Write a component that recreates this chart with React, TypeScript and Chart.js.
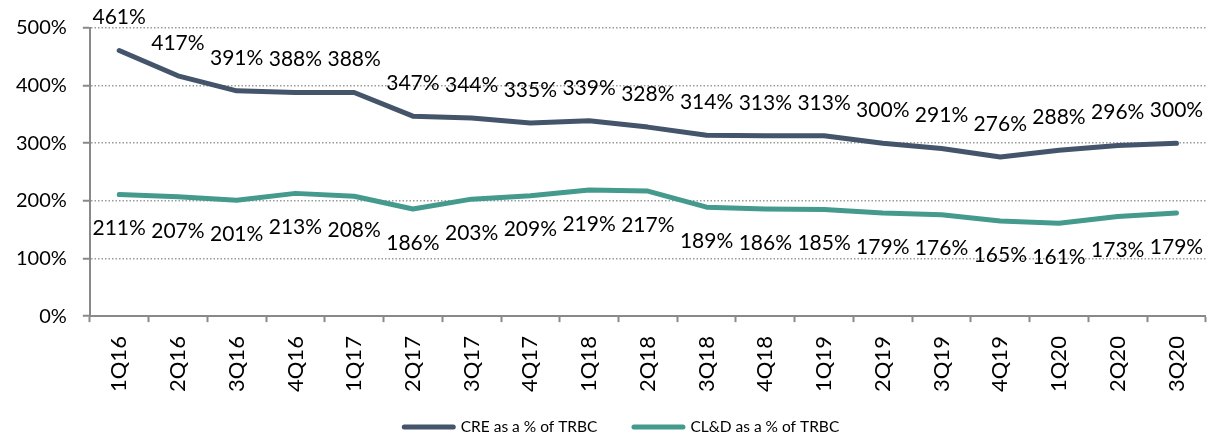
import React, { useEffect, useRef } from "react";
import { Chart, registerables } from "chart.js";

Chart.register(...registerables);

const categories = [
  "1Q16", "2Q16", "3Q16", "4Q16", "1Q17", "2Q17", "3Q17", "4Q17", "1Q18", "2Q18",
  "3Q18", "4Q18", "1Q19", "2Q19", "3Q19", "4Q19", "1Q20", "2Q20", "3Q20",
];
const creValues = [461, 417, 391, 388, 388, 347, 344, 335, 339, 328, 314, 313, 313, 300, 291, 276, 288, 296, 300];
const cldValues = [211, 207, 201, 213, 208, 186, 203, 209, 219, 217, 189, 186, 185, 179, 176, 165, 161, 173, 179];
const yTicks = [0, 100, 200, 300, 400, 500];

const FONT = "Lato";
const AXIS_COLOR = "#898989";
const CRE_COLOR = "#44546A";
const CLD_COLOR = "#459A8E";

const labelPlugin = {
  id: "pointLabels",
  afterDatasetsDraw(chart: any) {
    const ctx = chart.ctx;
    ctx.save();
    ctx.font = `21px ${FONT}`;
    ctx.fillStyle = "#000000";
    ctx.textAlign = "center";
    ctx.textBaseline = "middle";
    chart.data.datasets.forEach((ds: any, di: number) => {
      const meta = chart.getDatasetMeta(di);
      meta.data.forEach((pt: any, i: number) => {
        const off = di === 0 ? -33 : 34;
        ctx.fillText(`${ds.data[i]}%`, pt.x, pt.y + off);
      });
    });
    ctx.restore();
  },
};

const legendPlugin = {
  id: "lineLegend",
  afterDraw(chart: any) {
    const ctx = chart.ctx;
    ctx.save();
    ctx.font = `15.5px ${FONT}`;
    ctx.textBaseline = "middle";
    ctx.textAlign = "left";
    const lineW = 54;
    const gapText = 5;
    const gapItem = 34;
    const ds = chart.data.datasets;
    let total = 0;
    ds.forEach((d: any, i: number) => {
      total += lineW + gapText + ctx.measureText(d.label).width;
      if (i < ds.length - 1) total += gapItem;
    });
    let x = chart.width / 2 + 12 - total / 2;
    const y = 427;
    ds.forEach((d: any) => {
      ctx.strokeStyle = d.borderColor;
      ctx.lineWidth = 5;
      ctx.lineCap = "round";
      ctx.beginPath();
      ctx.moveTo(x + 2.5, y);
      ctx.lineTo(x + lineW - 2.5, y);
      ctx.stroke();
      x += lineW + gapText;
      ctx.fillStyle = "#000000";
      ctx.fillText(d.label, x, y);
      x += ctx.measureText(d.label).width + gapItem;
    });
    ctx.restore();
  },
};

export default function App() {
  const ref = useRef<HTMLCanvasElement | null>(null);
  useEffect(() => {
    document.body.style.margin = "0";
    if (!ref.current) return;
    const chart = new Chart(ref.current, {
      type: "line",
      data: {
        labels: categories,
        datasets: [
          {
            label: "CRE as a % of TRBC",
            data: creValues,
            borderColor: CRE_COLOR,
            backgroundColor: CRE_COLOR,
            borderWidth: 5,
            pointRadius: 0,
            tension: 0,
            borderCapStyle: "round",
            borderJoinStyle: "round",
          },
          {
            label: "CL&D as a % of TRBC",
            data: cldValues,
            borderColor: CLD_COLOR,
            backgroundColor: CLD_COLOR,
            borderWidth: 5,
            pointRadius: 0,
            tension: 0,
            borderCapStyle: "round",
            borderJoinStyle: "round",
          },
        ],
      },
      options: {
        responsive: false,
        animation: false,
        layout: { padding: { left: 0, right: 4, top: 28, bottom: 33 } },
        plugins: {
          legend: { display: false },
          tooltip: { enabled: false },
        },
        scales: {
          x: {
            offset: true,
            grid: {
              display: true,
              drawOnChartArea: false,
              drawTicks: true,
              offset: true,
              tickLength: 6,
              tickColor: AXIS_COLOR,
              tickWidth: 2,
            },
            border: { color: AXIS_COLOR, width: 2 },
            ticks: {
              minRotation: 90,
              maxRotation: 90,
              padding: 14,
              color: "#000000",
              font: { family: FONT, size: 22 },
            },
          },
          y: {
            min: 0,
            max: 500,
            afterBuildTicks: (axis: any) => {
              axis.ticks = yTicks.map((v) => ({ value: v }));
            },
            grid: {
              color: "#9A9A9A",
              lineWidth: 1.5,
              tickBorderDash: [],
              tickColor: AXIS_COLOR,
              tickWidth: 2,
              tickLength: 7,
            },
            border: { color: AXIS_COLOR, width: 2, dash: [1.5, 2] },
            ticks: {
              padding: 16,
              color: "#000000",
              font: { family: FONT, size: 20 },
              callback: (v: any) => `${v}%`,
            },
          },
        },
      },
      plugins: [labelPlugin, legendPlugin],
    } as any);
    return () => chart.destroy();
  }, []);
  return <canvas ref={ref} width={1217} height={439} style={{ display: "block" }} />;
}
